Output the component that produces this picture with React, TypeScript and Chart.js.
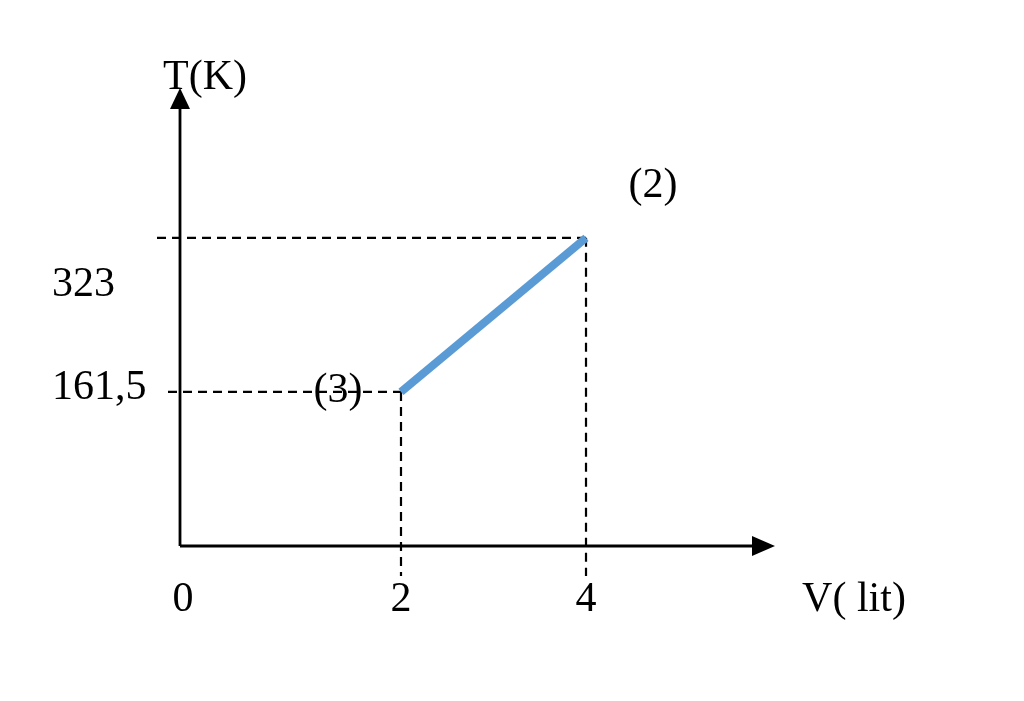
import React, { useEffect, useRef } from "react";
import { Chart, registerables } from "chart.js";

Chart.register(...registerables);

// Data
const volumes = [2, 4]; // V (lit)
const temperatures = [161.5, 323]; // T (K)
const xTickLabels = ["0", "2", "4"];
const xTickValues = [0, 2, 4];
const yTickLabels = ["161,5", "323"];
const pointLabels = ["(3)", "(2)"];
const xAxisTitle = "V( lit)";
const yAxisTitle = "T(K)";

const FONT = "42px 'Liberation Serif', 'DejaVu Serif', serif";

const diagramPlugin = {
  id: "diagram",
  beforeDatasetsDraw(chart: any) {
    const { ctx, chartArea, scales } = chart;
    const xs = scales.x;
    const ys = scales.y;
    const { left, right, top, bottom } = chartArea;
    ctx.save();
    // dashed guide lines
    ctx.strokeStyle = "#000";
    ctx.lineWidth = 2.2;
    ctx.setLineDash([9, 6]);
    const guideStart = [left - 12, left - 23];
    volumes.forEach((v, i) => {
      const px = xs.getPixelForValue(v);
      const py = ys.getPixelForValue(temperatures[i]);
      ctx.beginPath();
      ctx.moveTo(guideStart[i], py);
      ctx.lineTo(px, py);
      ctx.stroke();
      ctx.beginPath();
      ctx.moveTo(px, py);
      ctx.lineTo(px, bottom + 30);
      ctx.stroke();
    });
    ctx.setLineDash([]);
    // axes
    ctx.lineWidth = 2.8;
    ctx.beginPath();
    ctx.moveTo(left, bottom);
    ctx.lineTo(left, top + 18);
    ctx.moveTo(left, bottom);
    ctx.lineTo(right - 20, bottom);
    ctx.stroke();
    ctx.fillStyle = "#000";
    ctx.beginPath();
    ctx.moveTo(left, top);
    ctx.lineTo(left - 10, top + 21);
    ctx.lineTo(left + 10, top + 21);
    ctx.closePath();
    ctx.fill();
    ctx.beginPath();
    ctx.moveTo(right, bottom);
    ctx.lineTo(right - 23, bottom - 10);
    ctx.lineTo(right - 23, bottom + 10);
    ctx.closePath();
    ctx.fill();
    ctx.restore();
  },
  afterDraw(chart: any) {
    const { ctx, chartArea, scales } = chart;
    const xs = scales.x;
    const ys = scales.y;
    const { left, right, top, bottom } = chartArea;
    ctx.save();
    ctx.fillStyle = "#000";
    ctx.font = FONT;
    ctx.textBaseline = "middle";
    ctx.textAlign = "center";
    // x tick labels (origin label sits at the axis corner)
    xTickValues.forEach((v, i) => {
      const px = i === 0 ? left + 3 : xs.getPixelForValue(v);
      ctx.fillText(xTickLabels[i], px, bottom + 54);
    });
    ctx.fillText(xAxisTitle, right + 79, bottom + 54);
    ctx.fillText(yAxisTitle, left + 25, top - 10);
    // y tick labels
    ctx.textAlign = "left";
    const yOffsets = [-4, 47];
    temperatures.forEach((t, i) => {
      ctx.fillText(yTickLabels[i], 52, ys.getPixelForValue(t) + yOffsets[i]);
    });
    // point labels
    ctx.textAlign = "center";
    const labelDx = [-63, 67];
    const labelDy = [-1, -52];
    volumes.forEach((v, i) => {
      ctx.fillText(
        pointLabels[i],
        xs.getPixelForValue(v) + labelDx[i],
        ys.getPixelForValue(temperatures[i]) + labelDy[i]
      );
    });
    ctx.restore();
  },
};

export default function App() {
  const ref = useRef<HTMLCanvasElement>(null);
  useEffect(() => {
    if (!ref.current) return;
    const chart = new Chart(ref.current, {
      type: "line",
      data: {
        datasets: [
          {
            data: volumes.map((v, i) => ({ x: v, y: temperatures[i] })),
            borderColor: "#5B9BD5",
            borderWidth: 8,
            pointRadius: 0,
            borderCapStyle: "butt",
            fill: false,
          },
        ],
      },
      options: {
        responsive: false,
        animation: false,
        layout: { padding: { left: 180, right: 249, top: 88, bottom: 155 } },
        plugins: { legend: { display: false }, tooltip: { enabled: false } },
        scales: {
          x: { type: "linear", min: -0.389, max: 6.043, display: false },
          y: { type: "linear", min: 0, max: 480, display: false },
        },
      },
      plugins: [diagramPlugin],
    } as any);
    return () => chart.destroy();
  }, []);
  return (
    <div style={{ position: "fixed", left: 0, top: 0, width: 1024, height: 701, background: "#fff" }}>
      <canvas ref={ref} width={1024} height={701} />
    </div>
  );
}
